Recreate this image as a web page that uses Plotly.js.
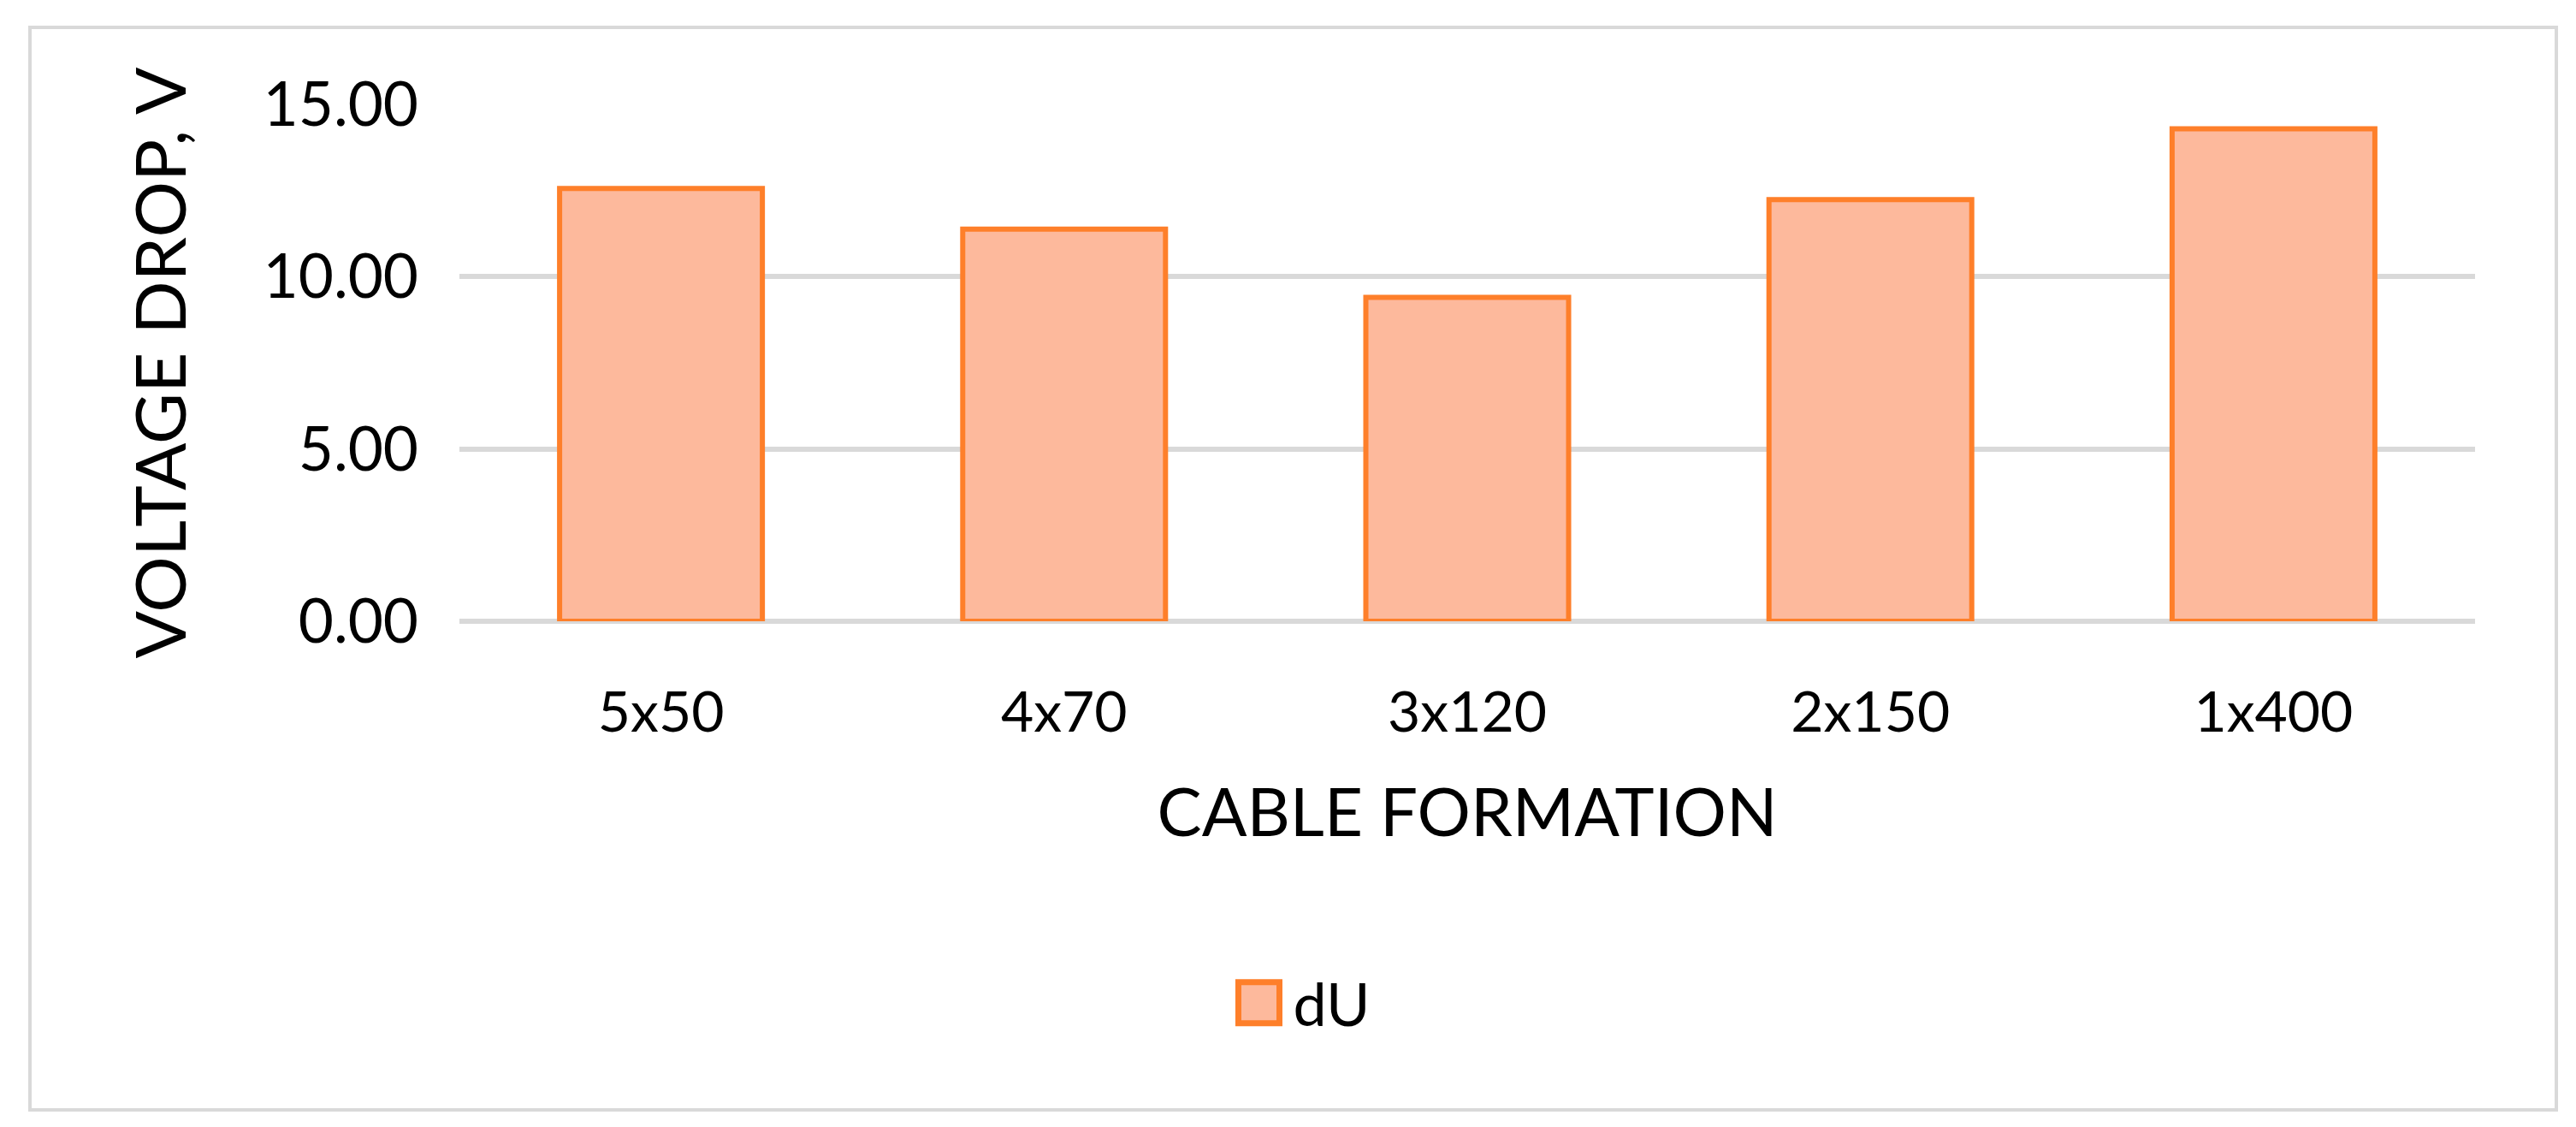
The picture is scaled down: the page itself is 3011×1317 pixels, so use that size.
<!DOCTYPE html>
<html>
<head>
<meta charset="utf-8">
<script src="https://cdn.plot.ly/plotly-3.0.1.min.js"></script>
<style>
    body { margin: 0; background: #ffffff; }
    #wrap { position: relative; width: 3011px; height: 1317px; }
    #chart { position: absolute; left: 0; top: 0; width: 3011px; height: 1317px; }
    #frame {
        position: absolute; left: 33px; top: 30px; width: 2949px; height: 1261px;
        border: 4px solid #d9d9d9; pointer-events: none;
    }
</style>
</head>
<body>
<div id="wrap">
    <div id="chart"></div>
    <div id="frame"></div>
</div>
<script>
// Data
let cableFormations = ['5x50', '4x70', '3x120', '2x150', '1x400'];
let voltageDrop = [12.56, 11.38, 9.40, 12.24, 14.29];
let seriesName = 'dU';

let fontFamily = 'Lato, "Liberation Sans", sans-serif';

let traceDrop = {
    x: cableFormations,
    y: voltageDrop,
    type: 'bar',
    name: seriesName,
    showlegend: true,
    marker: {
        color: '#FDB99C',
        line: { color: '#FE7F2A', width: 6 }
    },
    hoverinfo: 'x+y'
};

let layoutDrop = {
    width: 3011,
    height: 1317,
    margin: { l: 537, r: 118, t: 122, b: 591 },
    paper_bgcolor: 'rgba(0,0,0,0)',
    plot_bgcolor: 'rgba(0,0,0,0)',
    font: { family: fontFamily, color: '#000000' },
    bargap: 0.497,
    xaxis: {
        type: 'category',
        showgrid: false,
        showline: false,
        zeroline: false,
        ticks: '',
        ticklabelstandoff: 62,
        tickfont: { size: 66, family: fontFamily },
        title: {
            text: 'CABLE FORMATION',
            font: { size: 78, family: fontFamily },
            standoff: 54
        }
    },
    yaxis: {
        range: [0, 15],
        dtick: 5,
        tickformat: '.2f',
        showgrid: true,
        gridcolor: '#d9d9d9',
        gridwidth: 6,
        zeroline: true,
        zerolinecolor: '#d9d9d9',
        zerolinewidth: 6,
        showline: false,
        ticks: '',
        ticklabelstandoff: 47,
        tickfont: { size: 71, family: fontFamily },
        title: {
            text: 'VOLTAGE DROP, V',
            font: { size: 82, family: fontFamily },
            standoff: 62
        }
    },
    showlegend: true,
    legend: {
        orientation: 'h',
        x: 0.4168,
        xanchor: 'center',
        y: -0.738,
        yanchor: 'middle',
        itemwidth: 70,
        font: { size: 70, family: fontFamily },
        bgcolor: 'rgba(0,0,0,0)'
    }
};

Plotly.newPlot('chart', [traceDrop], layoutDrop, { displayModeBar: false, staticPlot: true }).then(function () {
    // bigger legend square like the original
    document.querySelectorAll('#chart .legendpoints path').forEach(function (p) {
        p.setAttribute('d', 'M24,24H-24V-24H24Z');
        p.style.strokeWidth = '7px';
    });
});
</script>
</body>
</html>
